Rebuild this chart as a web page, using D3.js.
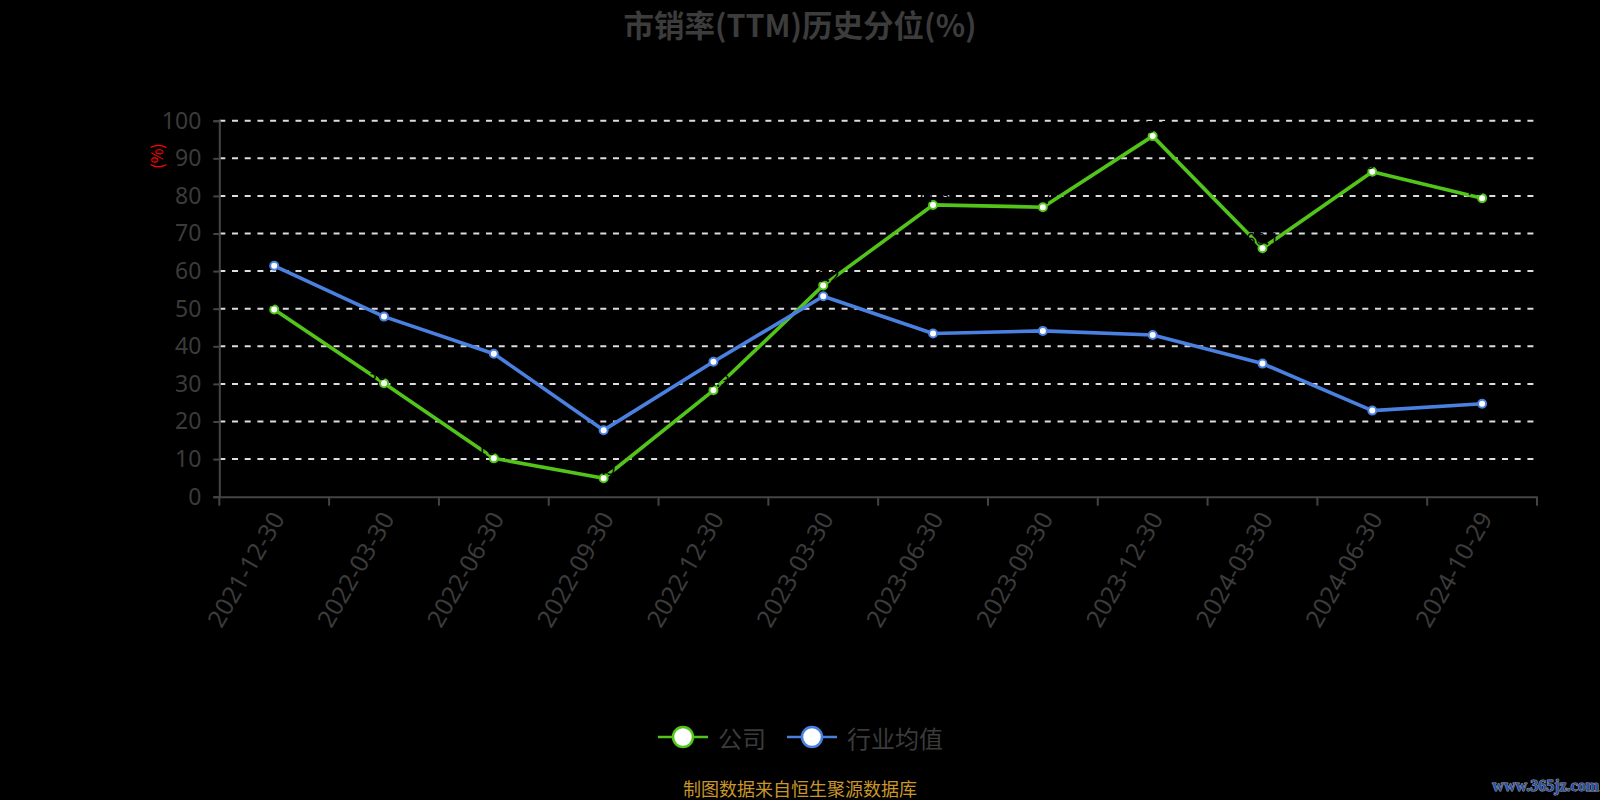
<!DOCTYPE html>
<html>
<head>
<meta charset="utf-8">
<script src="https://cdn.jsdelivr.net/npm/d3@7/dist/d3.min.js"></script>
<style>
html,body{margin:0;padding:0;background:#000;}
svg{display:block;font-family:"Noto Sans CJK SC","Noto Sans",sans-serif;}
</style>
</head>
<body>
<svg id="chart" width="1600" height="800"></svg>
<script>
const categories = ["2021-12-30","2022-03-30","2022-06-30","2022-09-30","2022-12-30","2023-03-30","2023-06-30","2023-09-30","2023-12-30","2024-03-30","2024-06-30","2024-10-29"];
const companyValues = [49.8, 30.2, 10.2, 4.9, 28.3, 56.2, 77.6, 77.0, 95.9, 66.1, 86.4, 79.4];
const industryValues = [61.4, 47.9, 38.0, 17.7, 35.9, 53.3, 43.4, 44.1, 43.0, 35.4, 22.9, 24.7];
const yTicks = [0,10,20,30,40,50,60,70,80,90,100];
const seriesNames = ["公司","行业均值"];
const titleText = "市销率(TTM)历史分位(%)";
const yAxisName = "(%)";
const sourceText = "制图数据来自恒生聚源数据库";
const watermarkText = "www.365jz.com";

(function(){
const green = "#52c41a", blue = "#4a80e0";
const latin = '"Noto Sans","Noto Sans CJK SC",sans-serif';
const svg = d3.select("#chart");
svg.append("rect").attr("width",1600).attr("height",800).attr("fill","#000");

const pL = 219.3, pR = 1537, pT = 120.7, pB = 496.7;
const x = d3.scaleBand().domain(categories).range([pL,pR]);
const y = d3.scaleLinear().domain([0,100]).range([pB,pT]);
const cx = d => x(d) + x.bandwidth()/2;

// title
svg.append("text").attr("x",800).attr("y",24).attr("text-anchor","middle")
  .attr("dominant-baseline","central").attr("font-size",30.5).attr("font-weight","bold")
  .attr("fill","#3c3c3c").text(titleText);

// grid
svg.append("g").selectAll("line").data(yTicks.filter(t=>t>0)).join("line")
  .attr("x1",pL).attr("x2",pR).attr("y1",d=>y(d)).attr("y2",d=>y(d))
  .attr("stroke","#dddddd").attr("stroke-width",2).attr("stroke-dasharray","6,6.7");

// y axis
const yAxis = svg.append("g").attr("transform",`translate(${pL},0)`)
  .call(d3.axisLeft(y).tickValues(yTicks).tickSize(6).tickPadding(12));
yAxis.select(".domain").attr("stroke","#444").attr("stroke-width",2);
yAxis.selectAll(".tick line").attr("stroke","#444").attr("stroke-width",2);
yAxis.selectAll(".tick text").attr("fill","#3b3b3b").style("font-size","23px")
  .style("font-family",latin);

// y axis name
svg.append("text").attr("transform","translate(156,156) rotate(-90)")
  .attr("text-anchor","middle").attr("dominant-baseline","central")
  .attr("font-size",16).attr("fill","#ff0000").text(yAxisName);

// x axis
const xAxis = svg.append("g").attr("transform",`translate(0,${pB})`)
  .call(d3.axisBottom(x).tickSize(0).tickFormat(""));
xAxis.select(".domain").attr("stroke","#444").attr("stroke-width",2);
const bounds = categories.map(c=>x(c)).concat([pR]);
svg.append("g").selectAll("line").data(bounds).join("line")
  .attr("x1",d=>d).attr("x2",d=>d).attr("y1",pB).attr("y2",pB+9)
  .attr("stroke","#444").attr("stroke-width",2);
svg.append("g").selectAll("text").data(categories).join("text")
  .attr("transform",d=>`translate(${cx(d)+3},${pB+17}) rotate(-60)`)
  .attr("text-anchor","end").attr("dominant-baseline","central")
  .style("font-family",latin)
  .style("font-size","24.5px").attr("fill","#3b3b3b").text(d=>d);

// lines
const line = d3.line().x((d,i)=>cx(categories[i])).y(d=>y(d));
svg.append("path").datum(companyValues).attr("d",line).attr("fill","none")
  .attr("stroke",green).attr("stroke-width",3.6).attr("stroke-linejoin","round");
svg.append("path").datum(industryValues).attr("d",line).attr("fill","none")
  .attr("stroke",blue).attr("stroke-width",3.6).attr("stroke-linejoin","round");

// markers
function markers(vals,color){
  svg.append("g").selectAll("circle").data(vals).join("circle")
    .attr("cx",(d,i)=>cx(categories[i])).attr("cy",d=>y(d)).attr("r",4)
    .attr("fill","#fff").attr("stroke",color).attr("stroke-width",2);
}
markers(companyValues,green);
markers(industryValues,blue);

// (black) value labels on company series
svg.append("g").selectAll("text").data(companyValues).join("text")
  .attr("x",(d,i)=>cx(categories[i])).attr("y",d=>y(d)-3)
  .attr("text-anchor","middle").attr("font-size",17).attr("fill","#000")
  .text(d=>d);

// legend
const lg = svg.append("g");
const items = [{name:seriesNames[0],color:green,x:658},{name:seriesNames[1],color:blue,x:787}];
items.forEach(it=>{
  lg.append("line").attr("x1",it.x).attr("x2",it.x+50).attr("y1",737).attr("y2",737)
    .attr("stroke",it.color).attr("stroke-width",2.5);
  lg.append("circle").attr("cx",it.x+25).attr("cy",737).attr("r",10)
    .attr("fill","#fff").attr("stroke",it.color).attr("stroke-width",2.5);
  lg.append("text").attr("x",it.x+60).attr("y",737).attr("dominant-baseline","central")
    .attr("font-size",24).attr("fill","#3b3b3b").text(it.name);
});

// source
svg.append("text").attr("x",800).attr("y",788).attr("text-anchor","middle")
  .attr("dominant-baseline","central").attr("font-size",18).attr("fill","#c8962a")
  .text(sourceText);

// watermark
svg.append("text").attr("x",1599).attr("y",785).attr("text-anchor","end")
  .attr("dominant-baseline","central").attr("font-weight","bold")
  .style("font-family","'Liberation Serif', serif").style("font-size","16px")
  .attr("fill","#2850a8").attr("stroke","#a0a0a0").attr("stroke-width",1)
  .attr("paint-order","stroke").text(watermarkText);
})();
</script>
</body>
</html>
